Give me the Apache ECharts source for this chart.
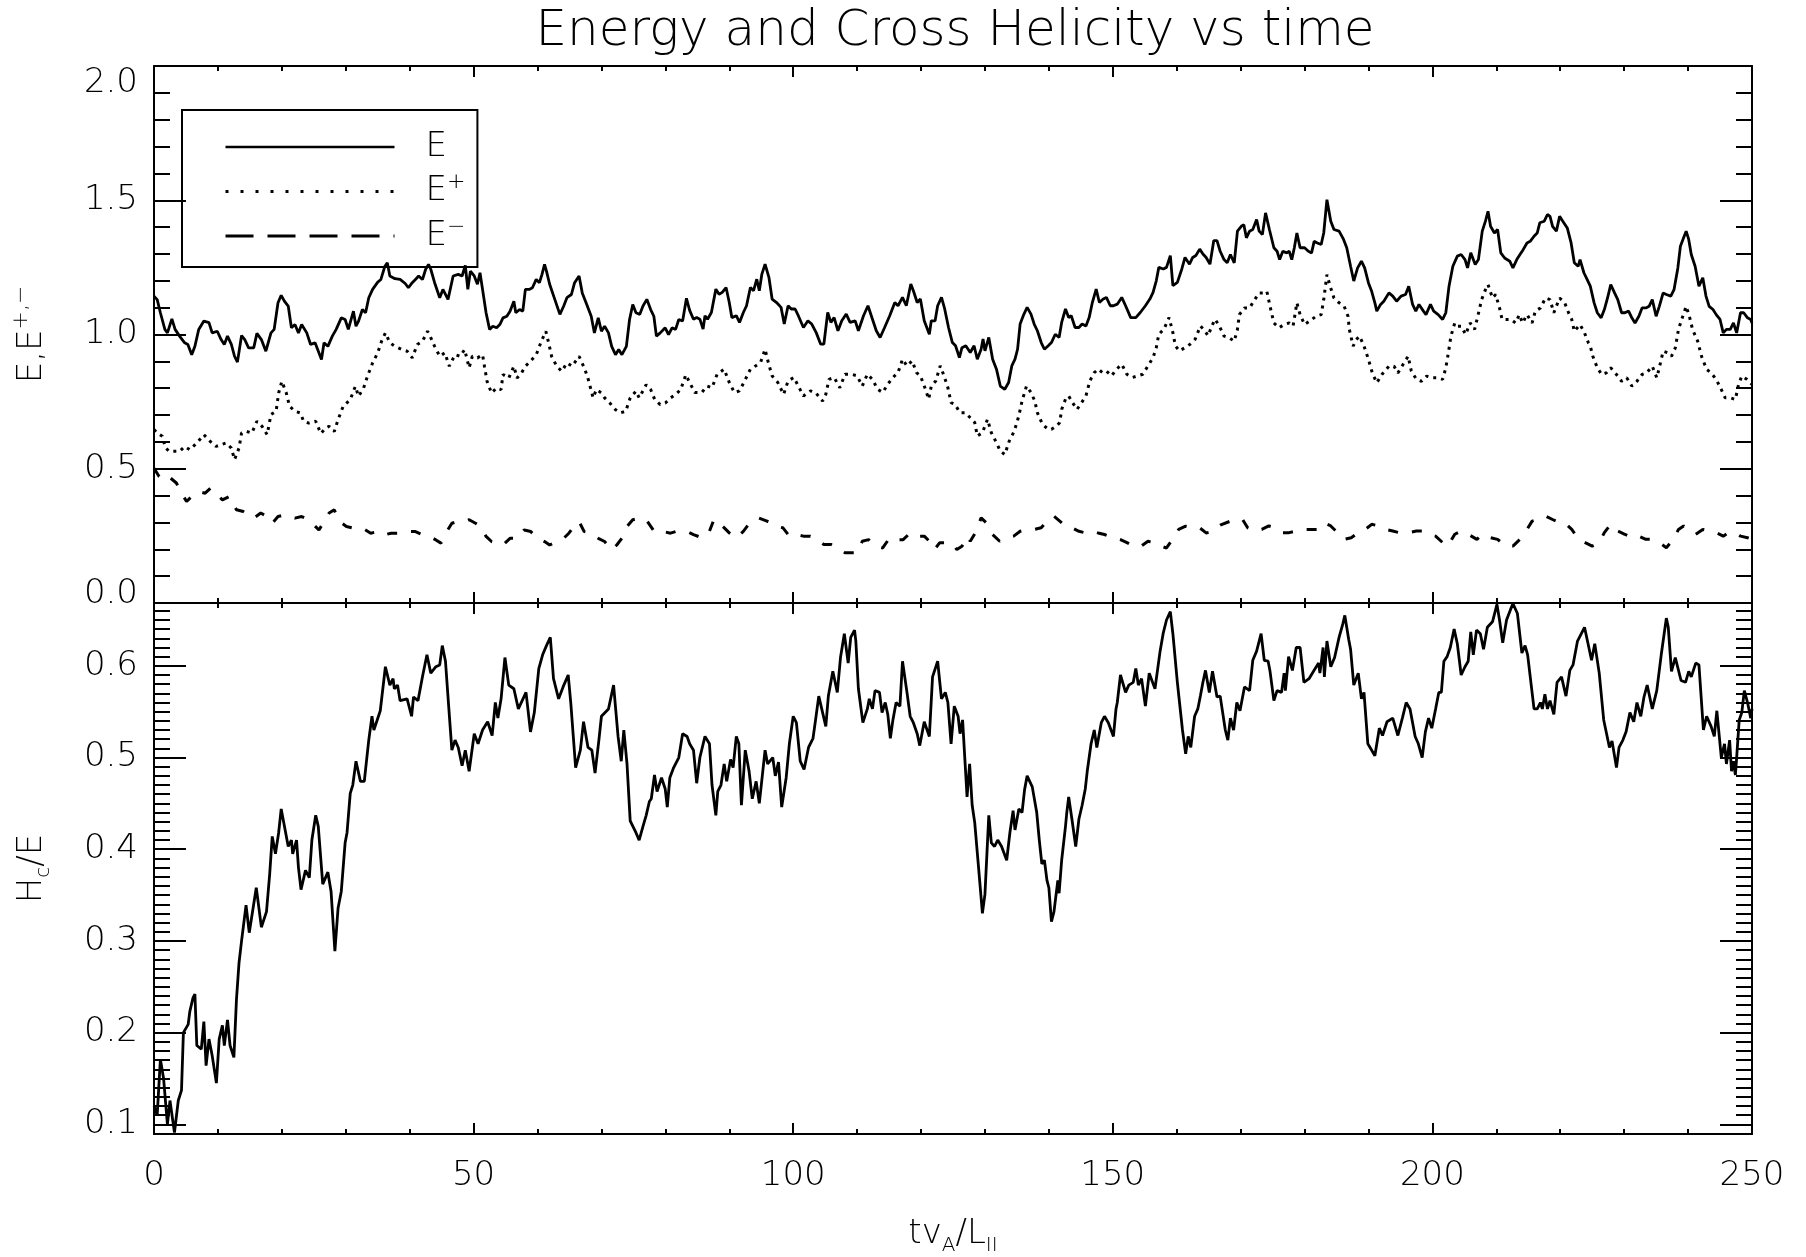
<!DOCTYPE html>
<html>
<head>
<meta charset="utf-8">
<script src="https://cdn.jsdelivr.net/npm/echarts@6/dist/echarts.min.js"></script>
<style>
  html, body { margin: 0; padding: 0; background: #ffffff; }
  #chart { width: 1806px; height: 1257px; }
</style>
</head>
<body>
<div id="chart"></div>
<script>
// ---- data: [time (t vA / L||), value] ----
const seriesE = [
  [0,1.143],[0.5,1.13],[1.0,1.081],[1.7,1.019],[2.1,1.006],[2.8,1.058],[3.3,1.019],[4.0,0.994],[4.8,0.969],[5.3,0.963],
  [5.9,0.925],[6.4,0.956],[7.0,1.019],[7.8,1.05],[8.6,1.044],[9.1,1.006],[9.9,1.012],[10.5,0.981],[11.0,0.963],[11.5,0.994],
  [12.1,0.963],[12.6,0.919],[13.05,0.897],[13.7,0.996],[14.2,0.981],[14.8,0.95],[15.6,0.95],[16.1,1.004],[16.8,0.981],[17.5,0.938],
  [18.3,1.006],[18.8,1.019],[19.4,1.118],[19.9,1.146],[20.4,1.124],[21.0,1.106],[21.5,1.025],[22.05,1.037],[22.6,1.006],[23.1,1.037],
  [23.9,1.006],[24.5,0.963],[25.2,0.969],[25.8,0.932],[26.2,0.907],[26.6,0.969],[27.2,0.956],[27.9,0.994],[28.5,1.019],[29.3,1.062],
  [29.9,1.056],[30.4,1.019],[31.2,1.087],[31.6,1.031],[32.0,1.05],[32.6,1.093],[33.1,1.081],[33.6,1.137],[34.2,1.168],[35.0,1.195],
  [35.5,1.205],[36.1,1.253],[36.5,1.267],[36.9,1.218],[37.7,1.208],[38.5,1.205],[39.3,1.19],[39.8,1.174],[40.4,1.193],[40.9,1.205],
  [41.4,1.218],[42.0,1.205],[42.5,1.243],[42.95,1.261],[43.3,1.243],[43.9,1.193],[44.7,1.137],[45.2,1.168],[46.0,1.131],[46.8,1.218],
  [47.6,1.224],[48.2,1.218],[48.7,1.257],[49.1,1.168],[49.5,1.236],[50.1,1.218],[50.6,1.187],[51.0,1.23],[51.4,1.168],[51.95,1.081],
  [52.5,1.019],[53.0,1.031],[53.6,1.025],[54.1,1.037],[54.6,1.062],[55.2,1.068],[55.7,1.087],[56.3,1.124],[56.6,1.081],[57.2,1.093],
  [57.7,1.087],[58.1,1.168],[58.7,1.168],[59.2,1.174],[59.8,1.205],[60.3,1.193],[60.7,1.224],[61.1,1.261],[61.4,1.236],[61.9,1.187],
  [62.7,1.131],[63.5,1.075],[64.1,1.106],[64.6,1.137],[65.3,1.149],[65.8,1.193],[66.5,1.218],[67.0,1.155],[67.7,1.112],[68.4,1.068],
  [68.9,1.006],[69.5,1.062],[70.0,1.012],[70.5,1.031],[71.1,1.006],[71.6,0.956],[72.2,0.925],[72.7,0.944],[73.2,0.925],[73.9,0.956],
  [74.4,1.056],[74.9,1.112],[75.4,1.081],[76.0,1.075],[76.5,1.106],[77.1,1.131],[77.7,1.093],[78.2,1.068],[78.6,0.994],[79.2,1.006],
  [79.97,1.025],[80.5,1.0],[81.05,1.025],[81.6,1.019],[82.1,1.056],[82.7,1.05],[83.3,1.135],[83.8,1.09],[84.4,1.057],[84.9,1.063],
  [85.4,1.057],[85.9,1.02],[86.2,1.07],[86.6,1.057],[87.2,1.082],[87.9,1.169],[88.4,1.15],[88.9,1.157],[89.5,1.175],[90.0,1.119],
  [90.4,1.063],[91.1,1.07],[91.6,1.045],[92.2,1.082],[92.7,1.107],[93.3,1.175],[93.8,1.163],[94.3,1.206],[94.7,1.163],[95.1,1.225],
  [95.6,1.262],[96.2,1.213],[96.7,1.132],[97.4,1.119],[98.1,1.101],[98.6,1.039],[99.2,1.107],[99.7,1.095],[100.3,1.095],[100.8,1.07],
  [101.6,1.026],[102.3,1.051],[102.9,1.039],[103.6,1.007],[104.3,0.964],[104.8,0.964],[105.4,1.082],[105.9,1.045],[106.4,1.063],[107.0,1.014],
  [107.6,1.051],[108.3,1.076],[108.9,1.045],[109.7,1.051],[110.2,1.014],[111.0,1.07],[111.7,1.107],[112.4,1.057],[113.0,1.014],[113.6,0.989],
  [114.3,1.026],[115.1,1.07],[115.9,1.119],[116.4,1.107],[117.1,1.138],[117.7,1.107],[118.4,1.188],[118.8,1.163],[119.4,1.119],[119.9,1.132],
  [120.5,1.051],[120.8,1.051],[121.3,1.001],[121.6,1.051],[122.2,1.051],[122.6,1.107],[123.2,1.138],[123.7,1.095],[124.3,1.026],[124.9,0.97],
  [125.4,0.958],[126.0,0.914],[126.4,0.951],[127.0,0.958],[127.7,0.933],[128.3,0.958],[128.8,0.908],[129.4,0.945],[129.7,0.983],[130.0,0.939],
  [130.6,0.989],[131.2,0.908],[131.8,0.871],[132.4,0.808],[133.1,0.796],[133.7,0.821],[134.2,0.883],[134.7,0.908],[135.1,0.945],[135.5,1.039],
  [136.1,1.076],[136.6,1.101],[137.2,1.076],[137.7,1.039],[138.2,1.014],[138.8,0.97],[139.3,0.945],[139.9,0.958],[140.4,0.97],[141.0,1.001],
  [141.6,0.989],[142.0,1.045],[142.6,1.095],[143.1,1.063],[143.5,1.07],[144.1,1.026],[144.7,1.026],[145.2,1.039],[145.8,1.032],[146.3,1.063],
  [146.8,1.119],[147.4,1.169],[147.9,1.119],[148.5,1.132],[149.0,1.138],[149.6,1.107],[150.1,1.107],[150.7,1.113],[151.4,1.138],[152.0,1.107],
  [152.8,1.063],[153.6,1.063],[154.3,1.082],[155.1,1.107],[155.8,1.132],[156.3,1.157],[156.8,1.2],[157.2,1.25],[157.9,1.244],[158.4,1.25],
  [159.0,1.294],[159.4,1.182],[160.1,1.194],[160.8,1.244],[161.3,1.287],[162.0,1.262],[162.5,1.287],[163.0,1.294],[163.6,1.318],[164.1,1.3],
  [164.6,1.287],[165.2,1.262],[165.8,1.35],[166.3,1.35],[166.8,1.31],[167.4,1.279],[167.9,1.267],[168.4,1.298],[169.0,1.267],[169.5,1.385],
  [170.1,1.403],[170.5,1.409],[170.9,1.36],[171.4,1.385],[171.9,1.391],[172.5,1.428],[172.9,1.385],[173.4,1.372],[173.9,1.453],[174.5,1.391],
  [175.2,1.323],[175.7,1.31],[176.1,1.279],[176.6,1.31],[177.2,1.304],[177.6,1.31],[178.0,1.279],[178.4,1.323],[178.8,1.378],[179.3,1.323],
  [180.0,1.323],[180.6,1.31],[181.1,1.304],[181.5,1.347],[182.0,1.341],[182.6,1.335],[183.0,1.378],[183.5,1.502],[184.1,1.422],[184.6,1.391],
  [185.4,1.385],[186.1,1.354],[186.6,1.323],[187.2,1.254],[187.7,1.199],[188.3,1.248],[188.9,1.273],[189.4,1.248],[190.0,1.192],[190.5,1.161],
  [191.0,1.118],[191.3,1.087],[191.9,1.112],[192.4,1.124],[193.2,1.155],[193.8,1.143],[194.4,1.124],[195.1,1.143],[195.8,1.149],[196.3,1.18],
  [196.9,1.112],[197.4,1.087],[197.9,1.112],[198.6,1.087],[199.0,1.074],[199.7,1.112],[200.2,1.087],[200.9,1.074],[201.6,1.056],[202.1,1.081],
  [202.6,1.18],[203.2,1.254],[203.9,1.292],[204.5,1.298],[205.1,1.279],[205.5,1.248],[206.0,1.304],[206.7,1.261],[207.2,1.279],[207.8,1.385],
  [208.3,1.422],[208.7,1.459],[209.1,1.403],[209.7,1.378],[210.2,1.391],[210.7,1.304],[211.3,1.285],[212.1,1.273],[212.6,1.248],[213.2,1.279],
  [213.7,1.298],[214.2,1.316],[214.8,1.341],[215.3,1.347],[215.9,1.366],[216.4,1.378],[216.8,1.416],[217.5,1.422],[218.0,1.447],[218.4,1.44],
  [218.8,1.403],[219.4,1.385],[219.9,1.44],[220.4,1.422],[221.1,1.397],[221.7,1.341],[222.2,1.267],[222.8,1.254],[223.1,1.279],[223.7,1.23],
  [224.2,1.205],[224.7,1.18],[225.3,1.118],[225.8,1.081],[226.4,1.062],[226.9,1.093],[227.4,1.136],[227.9,1.186],[228.5,1.155],[229.0,1.13],
  [229.6,1.081],[230.1,1.081],[230.7,1.087],[231.2,1.062],[231.7,1.043],[232.3,1.068],[232.8,1.099],[233.4,1.099],[233.9,1.105],[234.4,1.13],
  [235.0,1.068],[235.5,1.105],[236.1,1.155],[236.6,1.149],[237.3,1.143],[237.8,1.167],[238.4,1.248],[238.8,1.329],[239.3,1.36],[239.7,1.385],
  [240.1,1.354],[240.5,1.298],[241.1,1.254],[241.7,1.18],[242.3,1.211],[242.8,1.143],[243.3,1.105],[243.9,1.093],[244.4,1.074],[245.0,1.056],
  [245.5,1.006],[246.0,1.019],[246.6,1.019],[247.1,1.043],[247.6,1.006],[248.2,1.081],[248.7,1.081],[249.3,1.062],[249.8,1.056],[250,1.043]
];

const seriesEplus = [
  [0,0.646],[0.5,0.633],[1.3,0.621],[1.8,0.577],[2.4,0.565],[3.2,0.565],[4.0,0.565],[4.8,0.583],[5.6,0.571],[6.7,0.596],
  [7.8,0.627],[8.8,0.602],[9.7,0.583],[10.5,0.59],[11.3,0.596],[12.1,0.577],[12.6,0.534],[13.3,0.577],[13.7,0.633],[14.5,0.639],
  [15.3,0.633],[16.1,0.677],[16.9,0.658],[17.7,0.627],[18.3,0.702],[19.1,0.714],[19.5,0.782],[20.0,0.826],[20.7,0.782],[21.2,0.733],
  [22.05,0.714],[22.9,0.708],[23.4,0.677],[24.2,0.67],[25.3,0.677],[26.1,0.631],[26.9,0.652],[27.4,0.658],[28.2,0.639],[28.8,0.683],
  [29.6,0.733],[30.7,0.757],[31.5,0.807],[32.0,0.77],[32.8,0.801],[33.4,0.845],[34.2,0.894],[35.0,0.932],[35.6,0.975],[36.2,1.006],
  [36.9,0.969],[37.7,0.956],[38.8,0.944],[39.6,0.938],[40.4,0.913],[41.2,0.963],[42.0,0.975],[42.8,1.012],[43.3,0.988],[43.9,0.956],
  [44.7,0.919],[45.5,0.932],[46.2,0.882],[47.1,0.925],[47.9,0.919],[48.6,0.944],[49.3,0.876],[49.8,0.919],[50.6,0.913],[51.4,0.925],
  [51.7,0.882],[52.1,0.826],[52.8,0.782],[53.6,0.801],[54.3,0.795],[54.6,0.851],[55.5,0.838],[56.3,0.882],[56.8,0.838],[57.5,0.857],
  [58.1,0.882],[58.9,0.901],[59.8,0.925],[60.6,0.975],[61.3,1.012],[61.8,0.963],[62.2,0.919],[63.0,0.882],[63.8,0.863],[64.6,0.894],
  [65.4,0.882],[66.5,0.919],[67.2,0.882],[67.8,0.845],[68.7,0.764],[69.2,0.795],[70.0,0.782],[70.5,0.764],[71.3,0.745],[72.2,0.72],
  [72.97,0.708],[73.8,0.714],[74.5,0.764],[75.4,0.789],[75.9,0.764],[77.0,0.813],[77.7,0.795],[78.35,0.757],[79.2,0.739],[80.0,0.745],
  [80.8,0.764],[81.6,0.776],[82.4,0.795],[83.2,0.85],[83.8,0.821],[84.6,0.784],[85.7,0.784],[86.5,0.808],[87.3,0.802],[88.1,0.852],
  [89.2,0.871],[90.0,0.821],[90.8,0.784],[91.6,0.79],[92.4,0.827],[93.3,0.871],[94.1,0.883],[94.9,0.896],[95.6,0.945],[96.1,0.896],
  [96.7,0.846],[97.6,0.821],[98.5,0.777],[99.2,0.827],[100.1,0.84],[100.8,0.808],[101.6,0.771],[102.7,0.79],[103.5,0.784],[104.6,0.752],
  [105.1,0.777],[105.6,0.833],[106.4,0.84],[107.3,0.802],[108.1,0.852],[109.1,0.852],[110.0,0.846],[110.8,0.808],[111.6,0.852],[112.4,0.833],
  [113.2,0.796],[114.0,0.784],[114.8,0.815],[115.6,0.84],[116.4,0.858],[117.1,0.908],[117.8,0.883],[118.6,0.902],[119.3,0.858],[119.9,0.846],
  [120.6,0.802],[121.2,0.759],[121.6,0.808],[122.3,0.827],[123.0,0.883],[123.6,0.846],[124.2,0.802],[124.7,0.746],[125.3,0.74],[126.1,0.709],
  [126.9,0.709],[127.7,0.69],[128.4,0.672],[128.8,0.622],[129.6,0.634],[130.4,0.684],[131.0,0.634],[131.8,0.597],[132.4,0.566],[133.1,0.553],
  [133.8,0.603],[134.6,0.641],[135.3,0.697],[135.8,0.752],[136.5,0.808],[137.2,0.784],[137.8,0.752],[138.2,0.709],[139.0,0.665],[139.9,0.647],
  [140.4,0.647],[141.2,0.659],[141.7,0.672],[142.0,0.721],[142.6,0.759],[143.1,0.771],[143.7,0.746],[144.4,0.721],[145.1,0.746],[145.8,0.771],
  [146.4,0.827],[147.1,0.858],[147.7,0.871],[148.4,0.858],[149.0,0.864],[149.8,0.846],[150.6,0.871],[151.4,0.889],[152.2,0.852],[153.1,0.84],
  [153.9,0.846],[154.7,0.852],[155.5,0.883],[156.3,0.914],[156.8,0.951],[157.2,1.001],[158.0,1.02],[158.8,1.063],[159.4,1.007],[159.8,0.958],
  [160.4,0.939],[161.3,0.951],[162.1,0.964],[162.9,0.983],[163.7,1.032],[164.4,1.014],[164.9,0.995],[165.5,1.032],[166.0,1.057],[166.7,1.03],
  [167.4,0.994],[168.2,0.988],[169.0,0.975],[169.5,1.019],[169.8,1.074],[170.6,1.099],[171.4,1.099],[172.2,1.13],[172.9,1.155],[173.6,1.155],
  [174.1,1.161],[174.6,1.105],[175.2,1.043],[176.0,1.025],[176.8,1.037],[177.6,1.043],[178.2,1.031],[178.8,1.118],[179.3,1.074],[180.0,1.037],
  [180.8,1.05],[181.8,1.068],[182.6,1.074],[183.0,1.13],[183.5,1.223],[184.0,1.18],[184.6,1.136],[185.4,1.118],[186.2,1.105],[186.8,1.068],
  [187.0,1.019],[187.6,0.957],[188.1,0.981],[188.6,0.994],[189.3,0.957],[190.0,0.907],[190.6,0.857],[191.3,0.82],[192.1,0.851],[193.2,0.882],
  [194.0,0.882],[194.6,0.857],[195.4,0.888],[196.2,0.919],[196.7,0.864],[197.5,0.833],[198.3,0.826],[199.1,0.845],[199.9,0.839],[200.8,0.839],
  [201.6,0.833],[202.1,0.876],[202.5,0.932],[202.9,0.994],[203.5,1.043],[204.0,1.031],[204.5,1.031],[205.2,1.0],[205.9,1.043],[206.6,1.019],
  [207.1,1.068],[207.7,1.13],[208.3,1.167],[208.7,1.186],[209.4,1.136],[209.9,1.149],[210.5,1.099],[210.9,1.056],[211.5,1.056],[212.3,1.056],
  [213.0,1.043],[213.6,1.074],[214.1,1.043],[214.8,1.074],[215.6,1.043],[216.1,1.087],[216.9,1.099],[217.7,1.136],[218.4,1.13],[219.0,1.081],
  [219.9,1.136],[220.7,1.118],[221.3,1.081],[221.8,1.056],[222.2,1.012],[223.1,1.037],[223.8,1.006],[224.4,0.969],[224.7,0.957],[225.1,0.919],
  [225.8,0.876],[226.5,0.851],[227.2,0.857],[227.9,0.876],[228.8,0.851],[229.6,0.826],[230.4,0.839],[231.2,0.808],[232.0,0.826],[232.8,0.851],
  [233.5,0.857],[234.4,0.882],[235.1,0.839],[235.5,0.876],[236.1,0.938],[236.8,0.932],[237.4,0.919],[238.0,0.95],[238.5,1.019],[239.0,1.056],
  [239.7,1.105],[240.2,1.068],[240.7,1.019],[241.5,0.975],[242.1,0.919],[242.9,0.87],[243.6,0.857],[244.4,0.833],[245.2,0.795],[245.8,0.764],
  [246.6,0.764],[247.4,0.758],[247.9,0.814],[248.4,0.845],[249.2,0.833],[250,0.814]
];

const seriesEminus = [
  [0,0.502],[0.8,0.471],[1.8,0.453],[2.6,0.465],[3.5,0.447],[4.3,0.409],[5.1,0.378],[5.9,0.397],[6.96,0.415],[8.0,0.409],
  [8.85,0.428],[9.7,0.409],[10.7,0.384],[11.8,0.397],[12.9,0.347],[13.97,0.341],[15.6,0.316],[16.7,0.335],[17.7,0.322],[18.5,0.297],
  [19.4,0.322],[20.4,0.328],[21.2,0.322],[22.05,0.316],[23.1,0.322],[24.2,0.31],[25.8,0.272],[26.6,0.303],[27.4,0.335],[28.2,0.347],
  [29.05,0.303],[30.1,0.285],[31.2,0.279],[32.6,0.279],[33.9,0.26],[35.0,0.266],[36.1,0.254],[37.1,0.26],[38.2,0.26],[39.6,0.266],
  [40.9,0.266],[42.0,0.254],[43.1,0.248],[44.1,0.235],[44.9,0.223],[45.8,0.266],[46.6,0.297],[47.4,0.303],[48.5,0.303],[49.3,0.31],
  [50.3,0.297],[51.1,0.285],[51.95,0.248],[52.8,0.229],[53.6,0.223],[54.6,0.216],[55.7,0.241],[56.8,0.241],[57.9,0.272],[58.95,0.266],
  [60.0,0.241],[61.1,0.229],[61.9,0.216],[63.0,0.229],[64.1,0.241],[64.9,0.26],[65.7,0.285],[66.5,0.303],[67.3,0.266],[68.4,0.26],
  [69.5,0.241],[70.5,0.229],[71.6,0.198],[72.4,0.216],[73.2,0.241],[74.0,0.285],[74.9,0.31],[75.9,0.316],[77.0,0.31],[78.1,0.272],
  [78.9,0.26],[79.7,0.266],[80.8,0.26],[81.6,0.266],[82.7,0.266],[83.5,0.265],[84.4,0.255],[85.7,0.243],[86.8,0.261],[87.6,0.311],
  [88.7,0.292],[90.0,0.261],[91.1,0.243],[92.2,0.267],[93.0,0.292],[94.6,0.317],[95.9,0.305],[97.3,0.286],[98.4,0.28],[99.4,0.249],
  [100.5,0.255],[101.6,0.249],[102.7,0.249],[103.8,0.236],[104.8,0.218],[105.9,0.218],[107.0,0.205],[108.1,0.187],[109.1,0.187],[110.0,0.187],
  [110.8,0.23],[111.8,0.236],[112.9,0.211],[114.0,0.205],[115.1,0.243],[116.1,0.236],[117.2,0.236],[118.3,0.261],[119.4,0.249],[120.5,0.249],
  [121.3,0.23],[122.1,0.199],[122.9,0.224],[124.0,0.224],[124.8,0.224],[125.6,0.199],[126.4,0.211],[127.2,0.249],[127.7,0.23],[128.5,0.261],
  [129.4,0.317],[130.2,0.299],[131.2,0.255],[132.3,0.23],[133.4,0.243],[134.5,0.249],[135.5,0.267],[136.6,0.274],[137.7,0.274],[138.8,0.28],
  [139.9,0.311],[140.8,0.323],[141.7,0.305],[142.6,0.286],[143.6,0.28],[144.7,0.267],[145.8,0.261],[146.9,0.267],[147.7,0.261],[148.7,0.255],
  [150.1,0.243],[151.2,0.236],[152.3,0.224],[153.3,0.211],[154.4,0.211],[155.5,0.23],[156.6,0.224],[157.6,0.211],[158.4,0.205],[159.3,0.236],
  [160.3,0.274],[161.4,0.286],[162.5,0.28],[163.6,0.28],[164.6,0.261],[165.7,0.267],[166.8,0.29],[168.4,0.305],[169.5,0.305],[170.3,0.311],
  [171.1,0.28],[172.2,0.268],[173.3,0.274],[174.4,0.287],[175.4,0.28],[176.5,0.262],[177.6,0.262],[178.7,0.268],[179.8,0.274],[180.8,0.274],
  [181.9,0.274],[183.0,0.299],[184.1,0.287],[185.4,0.256],[186.2,0.237],[187.3,0.243],[188.4,0.262],[189.5,0.274],[190.5,0.293],[191.6,0.287],
  [192.7,0.274],[193.8,0.268],[194.8,0.262],[196.2,0.262],[197.5,0.268],[198.6,0.268],[199.4,0.256],[200.5,0.249],[201.6,0.225],[202.4,0.212],
  [203.5,0.256],[204.5,0.268],[205.6,0.256],[206.96,0.237],[207.8,0.256],[209.1,0.243],[210.2,0.237],[211.5,0.212],[212.6,0.212],[213.7,0.237],
  [214.8,0.274],[215.6,0.305],[216.4,0.311],[217.7,0.324],[218.8,0.311],[219.9,0.299],[220.7,0.299],[221.8,0.274],[222.9,0.237],[223.9,0.225],
  [225.0,0.212],[226.1,0.225],[226.9,0.262],[227.9,0.293],[229.0,0.268],[230.1,0.256],[231.2,0.243],[232.3,0.249],[233.4,0.237],[234.4,0.237],
  [235.5,0.225],[236.6,0.206],[237.7,0.237],[238.5,0.274],[239.3,0.287],[240.1,0.274],[241.2,0.256],[242.3,0.274],[243.3,0.268],[244.4,0.262],
  [245.5,0.249],[246.3,0.262],[247.4,0.262],[248.2,0.249],[249.3,0.243],[250,0.237]
];

const seriesHc = [
  [0,0.12],[0.5,0.11],[1.0,0.171],[1.5,0.15],[2.1,0.1],[2.5,0.126],[3.2,0.091],[3.8,0.126],[4.3,0.137],[4.6,0.2],
  [5.35,0.209],[5.6,0.223],[6.1,0.238],[6.4,0.242],[6.7,0.186],[7.4,0.182],[7.8,0.212],[8.15,0.164],[8.6,0.193],[9.1,0.175],
  [9.76,0.145],[10.2,0.193],[10.7,0.208],[11.0,0.186],[11.5,0.214],[11.9,0.186],[12.5,0.173],[12.9,0.236],[13.3,0.276],[13.7,0.30],
  [14.4,0.339],[14.9,0.309],[16.0,0.358],[16.8,0.315],[17.6,0.332],[18.1,0.373],[18.5,0.414],[19.0,0.395],[19.5,0.418],[19.9,0.444],
  [21.0,0.403],[21.5,0.41],[21.7,0.395],[22.3,0.41],[22.6,0.38],[23.0,0.356],[23.7,0.377],[24.3,0.369],[24.7,0.41],[25.3,0.437],
  [25.7,0.425],[26.4,0.362],[27.2,0.375],[27.7,0.354],[28.3,0.289],[28.8,0.336],[29.3,0.354],[29.9,0.407],[30.2,0.418],[30.7,0.461],
  [31.1,0.47],[31.6,0.496],[32.3,0.474],[32.9,0.474],[33.3,0.5],[33.6,0.519],[34.1,0.545],[34.4,0.53],[35.4,0.551],[36.2,0.599],
  [36.9,0.579],[37.4,0.586],[37.6,0.575],[38.1,0.579],[38.5,0.562],[39.6,0.564],[40.3,0.545],[40.6,0.566],[41.3,0.562],[42.0,0.588],
  [42.7,0.612],[43.3,0.592],[44.1,0.599],[44.7,0.601],[45.1,0.622],[45.6,0.605],[46.1,0.556],[46.6,0.508],[47.1,0.519],[47.6,0.511],
  [48.2,0.491],[48.7,0.508],[49.3,0.485],[50.1,0.526],[50.7,0.515],[51.4,0.53],[52.2,0.539],[52.9,0.524],[53.4,0.56],[53.8,0.543],
  [54.3,0.564],[54.9,0.609],[55.5,0.579],[56.3,0.575],[57.0,0.553],[58.2,0.571],[58.9,0.528],[59.5,0.549],[60.2,0.597],[60.8,0.612],
  [61.4,0.622],[62.0,0.631],[62.5,0.586],[63.3,0.564],[64.0,0.577],[64.8,0.59],[65.2,0.56],[65.96,0.489],[66.7,0.508],[67.2,0.539],
  [67.9,0.511],[68.5,0.508],[69.0,0.483],[69.6,0.519],[70.0,0.545],[71.1,0.553],[71.9,0.579],[72.6,0.523],[73.1,0.496],[73.5,0.53],
  [74.0,0.493],[74.5,0.431],[75.4,0.418],[75.9,0.41],[76.5,0.425],[77.0,0.437],[77.5,0.452],[77.8,0.455],[78.3,0.481],[78.7,0.463],
  [79.4,0.478],[79.97,0.466],[80.3,0.446],[80.7,0.478],[81.3,0.489],[82.1,0.5],[82.7,0.526],[83.4,0.523],[83.8,0.515],[84.4,0.508],
  [84.9,0.472],[85.4,0.5],[86.2,0.523],[86.9,0.515],[87.3,0.47],[87.9,0.437],[88.2,0.463],[88.7,0.47],[89.2,0.493],[89.6,0.474],
  [90.2,0.498],[90.6,0.489],[91.1,0.523],[91.5,0.515],[91.9,0.448],[92.5,0.508],[93.1,0.485],[93.6,0.455],[94.2,0.474],[94.7,0.45],
  [95.6,0.508],[96.0,0.493],[96.8,0.5],[97.2,0.48],[97.7,0.495],[98.2,0.446],[98.9,0.478],[99.4,0.515],[100.0,0.545],[100.5,0.538],
  [101.1,0.496],[101.7,0.487],[102.4,0.511],[103.1,0.521],[103.5,0.541],[104.0,0.567],[105.1,0.534],[105.5,0.567],[106.2,0.594],[106.9,0.571],
  [107.4,0.609],[108.0,0.635],[108.6,0.603],[109.0,0.631],[109.6,0.639],[109.8,0.627],[110.2,0.575],[110.9,0.538],[111.6,0.553],[111.9,0.564],
  [112.4,0.553],[112.8,0.573],[113.5,0.571],[113.9,0.549],[114.4,0.56],[114.8,0.547],[115.2,0.521],[115.6,0.541],[116.1,0.56],[116.7,0.556],
  [117.1,0.605],[117.8,0.571],[118.3,0.545],[118.8,0.538],[119.4,0.526],[119.8,0.513],[120.5,0.539],[121.3,0.523],[121.8,0.588],[122.6,0.605],
  [123.2,0.564],[123.8,0.571],[124.2,0.56],[124.7,0.515],[125.2,0.556],[125.8,0.545],[126.1,0.526],[126.5,0.541],[126.9,0.493],[127.2,0.457],
  [127.6,0.493],[128.0,0.448],[128.4,0.429],[129.0,0.38],[129.4,0.347],[129.6,0.33],[130.0,0.351],[130.6,0.437],[131.0,0.407],[131.5,0.403],
  [132.0,0.41],[132.6,0.403],[133.4,0.388],[133.9,0.418],[134.4,0.442],[134.7,0.421],[135.3,0.444],[135.8,0.44],[136.2,0.465],[136.6,0.48],
  [137.4,0.468],[138.1,0.44],[138.5,0.41],[138.9,0.384],[139.3,0.388],[139.7,0.366],[140.0,0.358],[140.4,0.321],[140.8,0.332],[141.4,0.366],
  [141.6,0.352],[142.0,0.388],[142.6,0.425],[142.8,0.44],[143.1,0.457],[143.6,0.433],[144.2,0.403],[144.7,0.433],[145.2,0.448],[145.7,0.466],
  [146.0,0.485],[146.6,0.515],[147.1,0.53],[147.5,0.511],[148.2,0.538],[148.7,0.545],[149.3,0.538],[150.1,0.523],[150.5,0.553],[150.7,0.56],
  [151.2,0.59],[152.0,0.571],[152.5,0.579],[153.2,0.582],[153.6,0.597],[154.0,0.579],[154.5,0.586],[155.1,0.556],[155.7,0.592],[156.6,0.575],
  [157.4,0.616],[157.9,0.636],[158.4,0.65],[159.0,0.659],[159.4,0.635],[160.1,0.582],[160.9,0.53],[161.4,0.504],[161.8,0.523],[162.2,0.511],
  [162.8,0.545],[163.3,0.553],[163.7,0.567],[164.1,0.582],[164.5,0.595],[165.1,0.571],[165.6,0.594],[166.3,0.566],[166.8,0.567],[167.6,0.53],
  [168.0,0.519],[168.4,0.543],[168.9,0.53],[169.4,0.56],[169.9,0.551],[170.6,0.577],[171.4,0.573],[171.9,0.606],[172.5,0.616],[173.2,0.635],
  [173.7,0.606],[174.3,0.605],[174.6,0.594],[175.2,0.562],[175.7,0.573],[176.4,0.571],[176.8,0.592],[177.0,0.573],[177.5,0.61],[178.1,0.595],
  [178.7,0.62],[179.3,0.62],[179.9,0.582],[180.7,0.586],[181.4,0.594],[182.2,0.603],[182.4,0.592],[182.9,0.62],[183.1,0.588],[183.5,0.627],
  [184.1,0.599],[184.7,0.609],[185.4,0.631],[186.0,0.646],[186.3,0.655],[186.9,0.629],[187.2,0.618],[187.7,0.579],[188.4,0.592],[188.9,0.564],
  [189.3,0.571],[189.9,0.515],[190.5,0.508],[191.0,0.502],[191.3,0.504],[191.7,0.532],[192.2,0.524],[192.9,0.539],[193.8,0.543],[194.6,0.524],
  [195.3,0.543],[195.9,0.56],[196.5,0.553],[197.3,0.523],[197.8,0.515],[198.4,0.5],[198.9,0.528],[199.4,0.543],[199.9,0.532],[200.5,0.553],
  [201.0,0.571],[201.4,0.571],[201.8,0.605],[202.3,0.61],[202.8,0.62],[203.4,0.64],[203.9,0.624],[204.5,0.59],[205.1,0.599],[205.6,0.605],
  [206.0,0.637],[206.4,0.612],[206.9,0.639],[207.5,0.635],[208.0,0.618],[208.6,0.642],[209.4,0.648],[210.1,0.667],[210.5,0.65],[211.0,0.625],
  [211.6,0.65],[212.2,0.661],[212.6,0.668],[213.3,0.657],[214.0,0.614],[214.5,0.622],[214.9,0.612],[215.9,0.553],[216.4,0.553],[216.9,0.56],
  [217.2,0.553],[217.6,0.569],[218.0,0.553],[218.4,0.562],[219.0,0.547],[219.5,0.582],[220.2,0.588],[220.9,0.567],[221.5,0.595],[222.0,0.601],
  [222.7,0.627],[223.8,0.642],[224.9,0.606],[225.4,0.624],[226.1,0.592],[226.8,0.541],[227.7,0.511],[228.1,0.518],[228.8,0.489],[229.2,0.511],
  [229.8,0.519],[230.3,0.528],[230.9,0.549],[231.5,0.539],[232.0,0.56],[232.6,0.545],[233.1,0.566],[233.6,0.579],[234.4,0.553],[235.1,0.573],
  [235.8,0.612],[236.6,0.652],[236.9,0.642],[237.4,0.594],[238.0,0.609],[238.9,0.584],[239.6,0.582],[240.1,0.594],[240.5,0.588],[241.2,0.603],
  [241.7,0.601],[242.4,0.53],[242.9,0.545],[243.6,0.534],[244.1,0.523],[244.5,0.551],[245.2,0.5],[245.7,0.515],[246.0,0.493],[246.5,0.519],
  [246.8,0.485],[247.1,0.496],[247.4,0.481],[247.6,0.5],[248.0,0.541],[248.4,0.549],[248.8,0.573],[249.3,0.56],[249.8,0.543],[250,0.553]
];

// ---- axis ranges and tick labels ----
const timeRange = [0, 250];
const energyRange = [0, 2];
const hcRange = [0.0895, 0.6685];
const hcTickLabels = [0.1, 0.2, 0.3, 0.4, 0.5, 0.6];
const hcMinorTicks = [];
for (let k = 9; k <= 66; k++) hcMinorTicks.push(k / 100);

const FONT = 'DejaVu Sans';
const WEIGHT = 200;
const INK = '#000000';

const nameRich = {
  b: { fontFamily: FONT, fontWeight: WEIGHT, fontSize: 34, lineHeight: 44, color: INK },
  s: { fontFamily: FONT, fontWeight: WEIGHT, fontSize: 22, lineHeight: 22, color: INK, verticalAlign: 'top' },
  d: { fontFamily: FONT, fontWeight: WEIGHT, fontSize: 20, lineHeight: 20, color: INK, verticalAlign: 'bottom' }
};

const tickFont = { fontFamily: FONT, fontWeight: WEIGHT, fontSize: 34, color: INK };

const frameLine = { show: true, onZero: false, lineStyle: { color: INK, width: 2 } };

function timeAxis(gridIndex, position, withLabels) {
  const ax = {
    type: 'value', gridIndex, position,
    min: timeRange[0], max: timeRange[1], interval: 50,
    axisLine: frameLine,
    axisTick: { show: true, inside: true, length: 11, lineStyle: { color: INK, width: 2 } },
    minorTick: { show: true, splitNumber: 5, length: 5, lineStyle: { color: INK, width: 2 } },
    splitLine: { show: false }, minorSplitLine: { show: false },
    axisLabel: { show: false }
  };
  if (withLabels) {
    ax.axisLabel = Object.assign({ show: true, margin: 25, formatter: v => String(v) }, tickFont);
    ax.name = '{b|tv}{d|A}{b|/L}{d|II}';
    ax.nameLocation = 'middle';
    ax.nameGap = 78;
    ax.nameTextStyle = { rich: nameRich };
  }
  return ax;
}

function energyAxis(position, withLabels) {
  const ax = {
    type: 'value', gridIndex: 0, position,
    min: energyRange[0], max: energyRange[1], interval: 0.5,
    axisLine: frameLine,
    axisTick: { show: true, inside: true, length: 32, lineStyle: { color: INK, width: 2 } },
    minorTick: { show: true, splitNumber: 5, length: 16, lineStyle: { color: INK, width: 2 } },
    splitLine: { show: false }, minorSplitLine: { show: false },
    axisLabel: { show: false }
  };
  if (withLabels) {
    ax.axisLabel = Object.assign({
      show: true, margin: 16,
      // the bottom label sits a little above the frame corner
      formatter: v => (v === 0 ? '{lo|0.0}' : v.toFixed(1)),
      rich: { lo: Object.assign({ padding: [0, 0, 18, 0] }, tickFont) },
      verticalAlignMaxLabel: 'top'
    }, tickFont);
    ax.name = '{b|E,E}{s|+,\u2212}';
    ax.nameLocation = 'middle';
    ax.nameRotate = 90;
    ax.nameGap = 100;
    ax.nameTextStyle = { rich: nameRich };
  }
  return ax;
}

function hcAxis(position, ticks, tickLen, withLabels) {
  const ax = {
    type: 'value', gridIndex: 1, position,
    min: hcRange[0], max: hcRange[1],
    axisLine: frameLine,
    axisTick: { show: true, inside: true, length: tickLen, customValues: ticks, lineStyle: { color: INK, width: 2 } },
    minorTick: { show: false },
    splitLine: { show: false }, minorSplitLine: { show: false },
    axisLabel: { show: false }
  };
  if (withLabels) {
    ax.axisLabel = Object.assign({
      show: true, margin: 16, customValues: hcTickLabels, formatter: v => v.toFixed(1)
    }, tickFont);
    ax.name = '{b|H}{d|c}{b|/E}';
    ax.nameLocation = 'middle';
    ax.nameRotate = 90;
    ax.nameGap = 100;
    ax.nameTextStyle = { rich: nameRich };
  }
  return ax;
}

const legendText = { 'E': '{b|E}', 'E+': '{b|E}{s|+}', 'E-': '{b|E}{s|\u2212}' };

const option = {
  backgroundColor: '#ffffff',
  animation: false,
  title: {
    text: 'Energy and Cross Helicity vs time',
    left: 950, top: 2, textAlign: 'center',
    textStyle: { fontFamily: FONT, fontWeight: WEIGHT, fontSize: 50, color: INK }
  },
  legend: {
    orient: 'vertical', left: 182, top: 110,
    padding: [20, 12, 14, 42],
    itemGap: 7.5, itemWidth: 169, itemHeight: 14,
    borderColor: INK, borderWidth: 2, backgroundColor: 'transparent',
    selectedMode: false,
    itemStyle: { opacity: 0 },
    formatter: name => legendText[name],
    textStyle: {
      padding: [0, 0, 0, 26],
      rich: {
        b: { fontFamily: FONT, fontWeight: WEIGHT, fontSize: 34, lineHeight: 40, color: INK },
        s: { fontFamily: FONT, fontWeight: WEIGHT, fontSize: 22, lineHeight: 22, color: INK, verticalAlign: 'top' }
      }
    },
    data: [
      { name: 'E', lineStyle: { type: 'solid', width: 2.5 } },
      { name: 'E+', lineStyle: { type: [3, 12], width: 3 } },
      { name: 'E-', lineStyle: { type: [28, 14], width: 3 } }
    ]
  },
  grid: [
    { left: 154, top: 66, width: 1598, height: 537 },
    { left: 154, top: 603, width: 1598, height: 538 }
  ],
  xAxis: [
    timeAxis(0, 'bottom', false),
    timeAxis(0, 'top', false),
    timeAxis(1, 'top', false),
    timeAxis(1, 'bottom', true)
  ],
  yAxis: [
    energyAxis('left', true),
    energyAxis('right', false),
    hcAxis('left', hcTickLabels, 32, true),
    hcAxis('right', hcTickLabels, 32, false),
    hcAxis('left', hcMinorTicks, 16, false),
    hcAxis('right', hcMinorTicks, 16, false)
  ],
  series: [
    {
      name: 'E', type: 'line', xAxisIndex: 0, yAxisIndex: 0, data: seriesE,
      symbol: 'none', lineStyle: { color: INK, width: 2.8, type: 'solid' }, itemStyle: { color: INK }, z: 3
    },
    {
      name: 'E+', type: 'line', xAxisIndex: 0, yAxisIndex: 0, data: seriesEplus,
      symbol: 'none', lineStyle: { color: INK, width: 3, type: [3, 5] }, itemStyle: { color: INK }, z: 3
    },
    {
      name: 'E-', type: 'line', xAxisIndex: 0, yAxisIndex: 0, data: seriesEminus,
      symbol: 'none', lineStyle: { color: INK, width: 3, type: [10, 14] }, itemStyle: { color: INK }, z: 3
    },
    {
      name: 'Hc/E', type: 'line', xAxisIndex: 3, yAxisIndex: 2, data: seriesHc,
      symbol: 'none', lineStyle: { color: INK, width: 2.8, type: 'solid' }, itemStyle: { color: INK }, z: 3
    }
  ]
};

const chart = echarts.init(document.getElementById('chart'), null, { renderer: 'canvas' });
chart.setOption(option);
</script>
</body>
</html>
